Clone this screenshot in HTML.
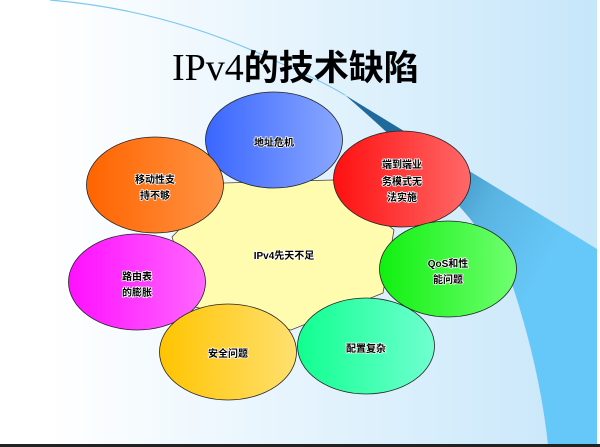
<!DOCTYPE html>
<html><head><meta charset="utf-8"><style>
body{margin:0;width:600px;height:447px;overflow:hidden;background:#fff}
svg{display:block}
.t{font-family:"Liberation Sans","Noto Sans CJK SC",sans-serif;font-size:10px;font-weight:bold;fill:#000;paint-order:stroke;stroke:#fff;stroke-width:1.5px;text-anchor:middle}
</style></head><body>
<svg width="600" height="447" viewBox="0 0 600 447" xmlns="http://www.w3.org/2000/svg">
<defs>
<linearGradient id="bg" x1="0" x2="1" y1="0" y2="0"><stop offset="0.08" stop-color="#ffffff"/><stop offset="1" stop-color="#c6e6fa"/></linearGradient>
<linearGradient id="sh" gradientUnits="userSpaceOnUse" x1="390" y1="140" x2="560" y2="240"><stop offset="0" stop-color="#1e6a9c"/><stop offset="0.6" stop-color="#5ab4e2"/><stop offset="1" stop-color="#66c8f8"/></linearGradient>
<linearGradient id="gb" x1="0" x2="1"><stop offset="0" stop-color="#3a66ff"/><stop offset="1" stop-color="#8aa8ff"/></linearGradient>
<linearGradient id="gr" x1="0" x2="1"><stop offset="0" stop-color="#ff1010"/><stop offset="1" stop-color="#ff6868"/></linearGradient>
<linearGradient id="go" x1="0" x2="1"><stop offset="0" stop-color="#ff6400"/><stop offset="1" stop-color="#ff9444"/></linearGradient>
<linearGradient id="gm" x1="0" x2="1"><stop offset="0" stop-color="#ff10ff"/><stop offset="1" stop-color="#ff66ff"/></linearGradient>
<linearGradient id="gg" x1="0" x2="1"><stop offset="0" stop-color="#10f010"/><stop offset="1" stop-color="#70ff70"/></linearGradient>
<linearGradient id="gy" x1="0" x2="1"><stop offset="0" stop-color="#ffc400"/><stop offset="1" stop-color="#ffe070"/></linearGradient>
<linearGradient id="gt" x1="0" x2="1"><stop offset="0" stop-color="#10ff90"/><stop offset="1" stop-color="#70ffd0"/></linearGradient>
</defs>
<rect width="600" height="447" fill="url(#bg)"/>
<path d="M345,95 L597,249 L597,445 L548,445 Q540,370 513,287 Q490,240 460,207 Q420,160 345,95 Z" fill="url(#sh)"/>
<path d="M50,0 Q170,10 280,63 Q320,80 345,95" fill="none" stroke="#7cc8f0" stroke-width="1.2"/>
<rect x="597" y="0" width="3" height="447" fill="#fff"/>
<rect x="0" y="444" width="600" height="3" fill="#222"/>
<text x="172" y="80" font-size="38" font-family="Liberation Serif,serif" fill="#000">IPv4<tspan font-family="Noto Sans CJK SC,sans-serif" font-weight="bold" font-size="35">的技术缺陷</tspan></text>
<polygon points="224,183 333,180 394,230 383,293 291,330 195,307 172,237" fill="#fffcb0" stroke="#444" stroke-width="0.8"/>
<g stroke="#222" stroke-width="0.8">
<ellipse cx="274" cy="140" rx="68.5" ry="48" fill="url(#gb)"/>
<ellipse cx="402" cy="179" rx="68.5" ry="48" fill="url(#gr)"/>
<ellipse cx="155" cy="185" rx="68.5" ry="48" fill="url(#go)"/>
<ellipse cx="137" cy="282" rx="68.5" ry="48" fill="url(#gm)"/>
<ellipse cx="448" cy="269" rx="68.5" ry="48" fill="url(#gg)"/>
<ellipse cx="366" cy="346" rx="68.5" ry="48" fill="url(#gt)"/>
<ellipse cx="228" cy="352" rx="68.5" ry="48" fill="url(#gy)"/>
</g>
<text class="t" x="284" y="259" font-size="12">IPv4先天不足</text>
<text class="t" x="274" y="146">地址危机</text>
<text class="t" x="402" y="168">端到端业</text>
<text class="t" x="402" y="185">务模式无</text>
<text class="t" x="402" y="201">法实施</text>
<text class="t" x="155" y="183">移动性支</text>
<text class="t" x="155" y="199">持不够</text>
<text class="t" x="137" y="280">路由表</text>
<text class="t" x="137" y="296">的膨胀</text>
<text class="t" x="448" y="267">QoS和性</text>
<text class="t" x="448" y="283">能问题</text>
<text class="t" x="366" y="352">配置复杂</text>
<text class="t" x="228" y="357">安全问题</text>
</svg>
</body></html>
